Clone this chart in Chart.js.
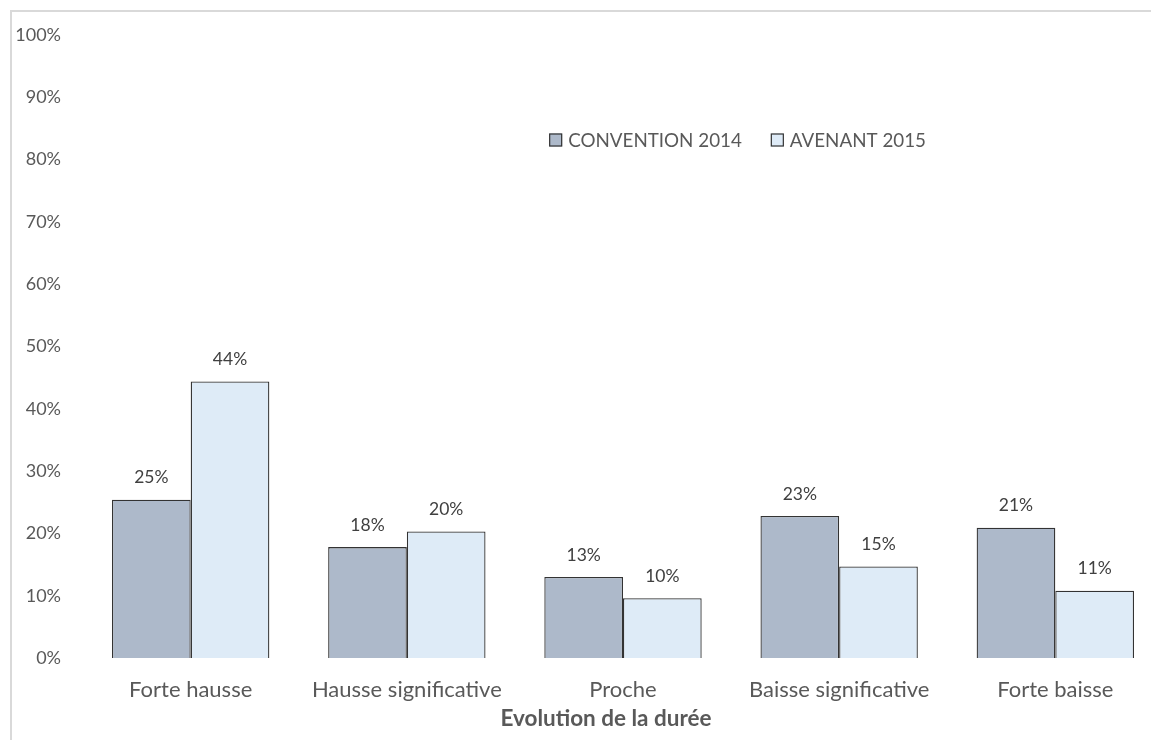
<!DOCTYPE html>
<html lang="fr">
<head>
<meta charset="utf-8">
<title>Evolution de la durée</title>
<script src="https://cdn.jsdelivr.net/npm/chart.js@4.4.1/dist/chart.umd.min.js"></script>
<style>
  html, body { margin: 0; padding: 0; background: #fff; overflow: hidden; }
  #cadre { position: absolute; left: 10px; top: 10px; border-left: 2px solid #d9d9d9; border-top: 2px solid #d9d9d9; }
  canvas { display: block; }
</style>
</head>
<body>
<div id="cadre"><canvas id="graphique" width="1188" height="760"></canvas></div>
<script>
// Données : répartition (%) par évolution de la durée
const categories = ['Forte hausse', 'Hausse significative', 'Proche', 'Baisse significative', 'Forte baisse'];
const convention2014 = [25.4, 17.8, 13.0, 22.8, 20.9];
const avenant2015 = [44.4, 20.3, 9.6, 14.7, 10.8];
const seriesNoms = ['CONVENTION 2014', 'AVENANT 2015'];
const ticksY = [0, 10, 20, 30, 40, 50, 60, 70, 80, 90, 100];
const titreAxeX = 'Evolution de la durée';

const POLICE = 'Lato, "Open Sans", sans-serif';
const GRIS_TEXTE = '#595959';

// Etiquettes de valeur au-dessus des barres
const etiquettesValeurs = {
    id: 'etiquettesValeurs',
    afterDatasetsDraw(chart) {
        const ctx = chart.ctx;
        ctx.save();
        ctx.font = '17.5px ' + POLICE;
        ctx.fillStyle = '#404040';
        ctx.textAlign = 'center';
        ctx.textBaseline = 'middle';
        chart.data.datasets.forEach((ds, i) => {
            chart.getDatasetMeta(i).data.forEach((bar, j) => {
                ctx.fillText(Math.round(ds.data[j]) + '%', bar.x, bar.y - 22);
            });
        });
        ctx.restore();
    }
};

// Légende dans la zone de tracé + titre de l'axe centré sur tout le graphique
const legendeEtTitre = {
    id: 'legendeEtTitre',
    afterDraw(chart) {
        const ctx = chart.ctx;
        const area = chart.chartArea;
        const boite = 13, ecart = 6, espaceItems = 29;
        ctx.save();
        ctx.font = '18.8px ' + POLICE;
        ctx.textBaseline = 'middle';
        const largeurs = chart.data.datasets.map(ds => ctx.measureText(ds.label).width);
        const total = largeurs.reduce((a, w) => a + boite + ecart + w, 0) + espaceItems * (largeurs.length - 1);
        let x = area.left + area.width * 0.606 - total / 2;
        const y = area.top + 105;
        chart.data.datasets.forEach((ds, i) => {
            ctx.fillStyle = ds.backgroundColor;
            ctx.fillRect(x, y - boite / 2, boite, boite);
            ctx.strokeStyle = '#333333';
            ctx.lineWidth = 1.2;
            ctx.strokeRect(x + 0.5, y - boite / 2 + 0.5, boite - 1, boite - 1);
            ctx.fillStyle = GRIS_TEXTE;
            ctx.fillText(ds.label, x + boite + ecart, y + 1);
            x += boite + ecart + largeurs[i] + espaceItems;
        });

        ctx.font = 'bold 22.5px ' + POLICE;
        ctx.textAlign = 'center';
        ctx.fillStyle = GRIS_TEXTE;
        ctx.fillText(titreAxeX, chart.width / 2, area.bottom + 61);
        ctx.restore();
    }
};

const ctx = document.getElementById('graphique').getContext('2d');
const graphique = new Chart(ctx, {
    type: 'bar',
    data: {
        labels: categories,
        datasets: [
            {
                label: seriesNoms[0],
                data: convention2014,
                backgroundColor: '#adb9ca',
                borderColor: '#333333',
                borderWidth: 1.3,
                categoryPercentage: 0.728,
                barPercentage: 1
            },
            {
                label: seriesNoms[1],
                data: avenant2015,
                backgroundColor: '#deebf7',
                borderColor: '#333333',
                borderWidth: 1.3,
                categoryPercentage: 0.728,
                barPercentage: 1
            }
        ]
    },
    options: {
        responsive: false,
        animation: false,
        devicePixelRatio: 1,
        layout: { padding: { top: 23, right: 36.6, bottom: 0, left: 0 } },
        scales: {
            x: {
                grid: { display: false, drawTicks: false },
                border: { display: false },
                ticks: { color: GRIS_TEXTE, font: { family: POLICE, size: 22 }, padding: 18.8, maxRotation: 0 },
                afterFit(axis) { axis.height = 114; }
            },
            y: {
                min: 0,
                max: 100,
                afterBuildTicks(axis) { axis.ticks = ticksY.map(v => ({ value: v })); },
                grid: { display: false, drawTicks: true, tickLength: 21.6 },
                border: { display: false },
                ticks: {
                    color: GRIS_TEXTE,
                    font: { family: POLICE, size: 18 },
                    padding: 0,
                    callback: v => v + '%'
                },
                afterFit(axis) { axis.width = 70.6; }
            }
        },
        plugins: {
            legend: { display: false },
            tooltip: { enabled: false }
        }
    },
    plugins: [etiquettesValeurs, legendeEtTitre]
});
</script>
</body>
</html>
